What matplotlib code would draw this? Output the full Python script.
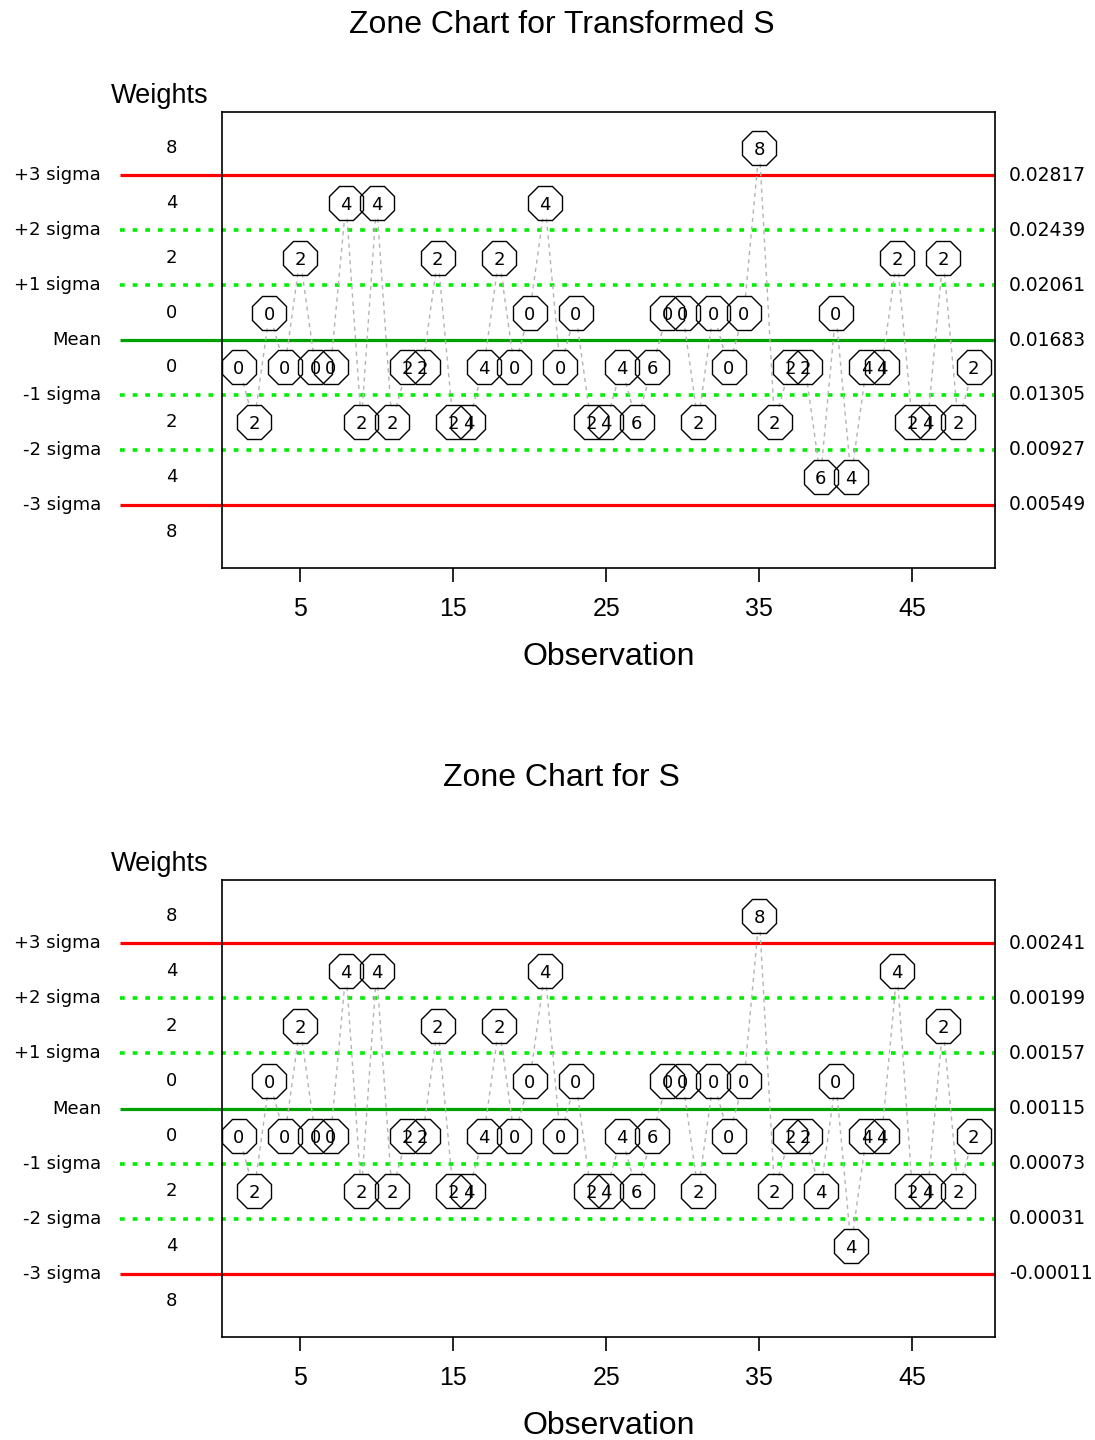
import numpy as np
import matplotlib.pyplot as plt

obs = np.arange(1, 50)

# signed zone of each point: 1..4 above the mean, -1..-4 below
zone_trans = [-1, -2, 1, -1, 2, -1, -1, 3, -2, 3, -2, -1, -1, 2, -2, -2, -1, 2, -1, 1,
              3, -1, 1, -2, -2, -1, -2, -1, 1, 1, -2, 1, -1, 1, 4, -2, -1, -1, -3, 1,
              -3, -1, -1, 2, -2, -2, 2, -2, -1]
score_trans = [0, 2, 0, 0, 2, 0, 0, 4, 2, 4, 2, 2, 2, 2, 2, 4, 4, 2, 0, 0,
               4, 0, 0, 2, 4, 4, 6, 6, 0, 0, 2, 0, 0, 0, 8, 2, 2, 2, 6, 0,
               4, 4, 4, 2, 2, 4, 2, 2, 2]

zone_s = [-1, -2, 1, -1, 2, -1, -1, 3, -2, 3, -2, -1, -1, 2, -2, -2, -1, 2, -1, 1,
          3, -1, 1, -2, -2, -1, -2, -1, 1, 1, -2, 1, -1, 1, 4, -2, -1, -1, -2, 1,
          -3, -1, -1, 3, -2, -2, 2, -2, -1]
score_s = [0, 2, 0, 0, 2, 0, 0, 4, 2, 4, 2, 2, 2, 2, 2, 4, 4, 2, 0, 0,
           4, 0, 0, 2, 4, 4, 6, 6, 0, 0, 2, 0, 0, 0, 8, 2, 2, 2, 4, 0,
           4, 4, 4, 4, 2, 4, 2, 2, 2]

weights = ['8', '4', '2', '0', '0', '2', '4', '8']
sigma_names = ['+3 sigma', '+2 sigma', '+1 sigma', 'Mean', '-1 sigma', '-2 sigma', '-3 sigma']
limits_trans = ['0.02817', '0.02439', '0.02061', '0.01683', '0.01305', '0.00927', '0.00549']
limits_s = ['0.00241', '0.00199', '0.00157', '0.00115', '0.00073', '0.00031', '-0.00011']

BIG = 'Liberation Sans'
SMALL = 'DejaVu Sans'

fig = plt.figure(figsize=(10.95, 14.4), dpi=100)


def zone_chart(rect, title, title_y, zones, scores, limits):
    ax = fig.add_axes(rect)
    ax.set_xlim(-0.1, 50.4)
    ax.set_ylim(-4.15, 4.15)
    y = np.sign(zones) * (np.abs(zones) - 0.5)

    # control lines, extended to the left out of the axes
    levels = [3, 2, 1, 0, -1, -2, -3]
    x0 = ax.transData.inverted().transform((120, 0))[0]
    for lev, name, lim in zip(levels, sigma_names, limits):
        if abs(lev) == 3:
            kw = dict(color='#ff0000', lw=2.3)
        elif lev == 0:
            kw = dict(color='#00a000', lw=2.3)
        else:
            kw = dict(color='#00ee00', lw=2.6, dashes=(1.3, 2.2))
        ax.plot([x0, 50.4], [lev, lev], clip_on=False, solid_capstyle='butt',
                dash_capstyle='butt', zorder=1, **kw)
        ax.text(-0.1565, lev, name, transform=ax.get_yaxis_transform(),
                ha='right', va='center', fontsize=13, family=SMALL)
        ax.text(1.018, lev, lim, transform=ax.get_yaxis_transform(),
                ha='left', va='center', fontsize=13.5, family=SMALL)

    for lev, w in zip([3.5, 2.5, 1.5, 0.5, -0.5, -1.5, -2.5, -3.5], weights):
        ax.text(-0.065, lev, w, transform=ax.get_yaxis_transform(),
                ha='center', va='center', fontsize=13, family=SMALL)
    ax.text(-0.08, 1.035, 'Weights', transform=ax.transAxes, ha='center',
            va='center', fontsize=19.5, family=BIG)

    # connecting line with gaps at each marker (like R type="b")
    pts = ax.transData.transform(np.column_stack([obs, y]))
    r = 16
    for a, b in zip(pts[:-1], pts[1:]):
        d = b - a
        L = np.hypot(*d)
        if L <= 2 * r:
            continue
        u = d / L
        seg = ax.transData.inverted().transform([a + u * r, b - u * r])
        ax.plot(seg[:, 0], seg[:, 1], color='#b4b4b4', lw=1.0, dashes=(3, 3), zorder=2)

    ax.plot(obs, y, ls='none', marker='8', ms=27, mfc='none', mec='black',
            mew=1.0, zorder=3)
    for xi, yi, s in zip(obs, y, scores):
        ax.text(xi, yi, str(s), ha='center', va='center_baseline', fontsize=13,
                family=SMALL, zorder=4)

    ax.set_yticks([])
    ax.set_xticks([5, 15, 25, 35, 45])
    ax.tick_params(axis='x', labelsize=18, length=10, width=1.2, pad=11)
    for t in ax.get_xticklabels():
        t.set_family(BIG)
    ax.set_xlabel('Observation', fontsize=23, family=BIG, labelpad=15)
    for sp in ax.spines.values():
        sp.set_linewidth(1.2)
    fig.text(0.513, title_y, title, ha='center', va='center', fontsize=23, family=BIG)
    return ax


zone_chart([222 / 1095, 1 - 568 / 1440, 773 / 1095, 456 / 1440],
           'Zone Chart for Transformed S', 1 - 25 / 1440, zone_trans, score_trans, limits_trans)
zone_chart([222 / 1095, 1 - 1337 / 1440, 773 / 1095, 457 / 1440],
           'Zone Chart for S', 1 - 778 / 1440, zone_s, score_s, limits_s)

fig.savefig('out.png', dpi=100)
